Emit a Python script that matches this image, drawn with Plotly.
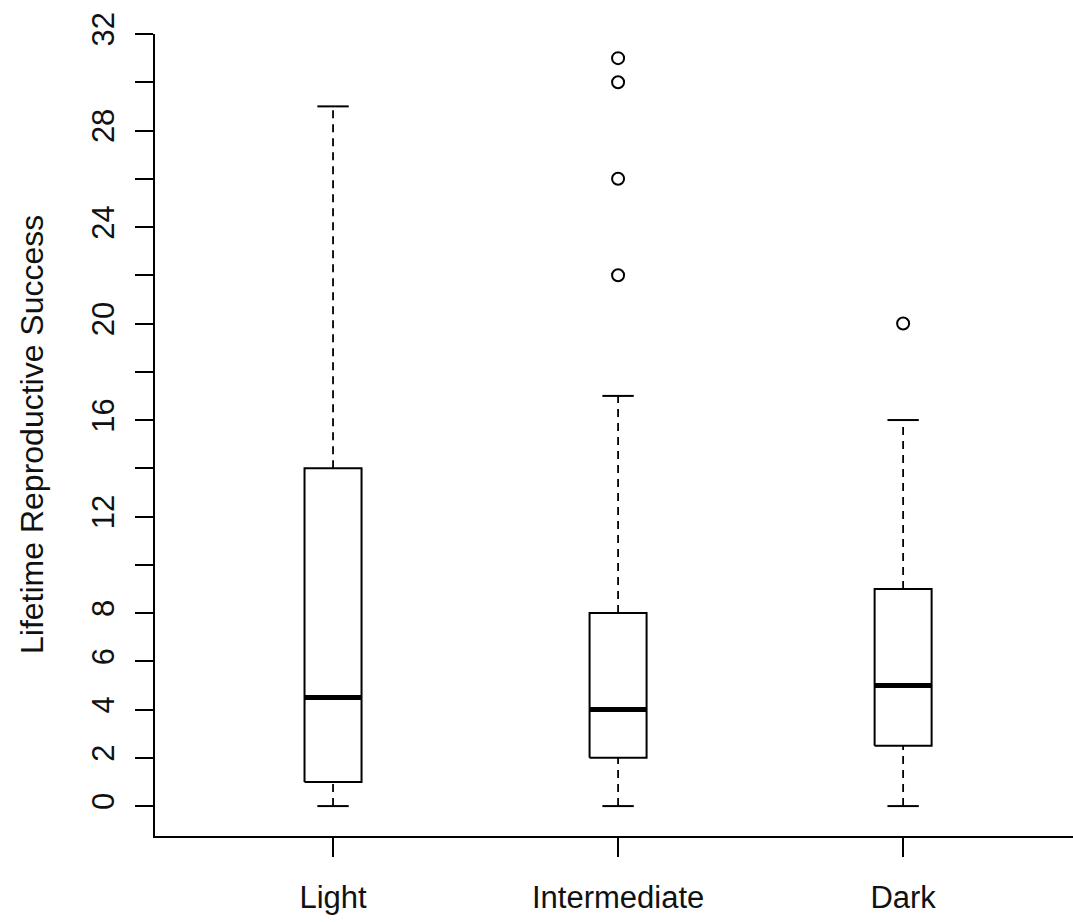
import plotly.graph_objects as go

categories = ["Light", "Intermediate", "Dark"]
lower_whisker = [0, 0, 0]
q1 = [1, 2, 2.5]
median = [4.5, 4, 5]
q3 = [14, 8, 9]
upper_whisker = [29, 17, 16]
outliers = {"Intermediate": [22, 26, 30, 31], "Dark": [20]}

y_tickvals = list(range(0, 33, 2))
y_ticklabels = ["0", "2", "4", "6", "8", "", "12", "", "16", "", "20", "", "24", "", "28", "", "32"]

FONT = "Liberation Sans, Arial, sans-serif"
BOX_HALF = 0.1
STAPLE_HALF = 0.055

pos = list(range(1, len(categories) + 1))

box_x, box_y = [], []
med_x, med_y = [], []
wh_x, wh_y = [], []
st_x, st_y = [], []
out_x, out_y = [], []
for i, c in enumerate(categories):
    p = pos[i]
    box_x += [p - BOX_HALF, p + BOX_HALF, p + BOX_HALF, p - BOX_HALF, p - BOX_HALF, None]
    box_y += [q1[i], q1[i], q3[i], q3[i], q1[i], None]
    med_x += [p - BOX_HALF, p + BOX_HALF, None]
    med_y += [median[i], median[i], None]
    wh_x += [p, p, None, p, p, None]
    wh_y += [q3[i], upper_whisker[i], None, lower_whisker[i], q1[i], None]
    st_x += [p - STAPLE_HALF, p + STAPLE_HALF, None, p - STAPLE_HALF, p + STAPLE_HALF, None]
    st_y += [upper_whisker[i], upper_whisker[i], None, lower_whisker[i], lower_whisker[i], None]
    for v in outliers.get(c, []):
        out_x.append(p)
        out_y.append(v)

fig = go.Figure()
fig.add_trace(go.Scatter(x=wh_x, y=wh_y, mode="lines",
                         line=dict(color="black", width=1.8, dash="8px,6px"), hoverinfo="skip"))
fig.add_trace(go.Scatter(x=st_x, y=st_y, mode="lines",
                         line=dict(color="black", width=2), hoverinfo="skip"))
fig.add_trace(go.Scatter(x=box_x, y=box_y, mode="lines",
                         line=dict(color="black", width=2), hoverinfo="skip"))
fig.add_trace(go.Scatter(x=med_x, y=med_y, mode="lines",
                         line=dict(color="black", width=5), hoverinfo="skip"))
fig.add_trace(go.Scatter(x=out_x, y=out_y, mode="markers",
                         marker=dict(symbol="circle-open", size=12, color="black",
                                     line=dict(width=2, color="black")), hoverinfo="skip"))

fig.update_layout(
    width=1073, height=922,
    margin=dict(l=155, r=0, t=34, b=86),
    paper_bgcolor="white", plot_bgcolor="white",
    showlegend=False,
    font=dict(family=FONT, size=30, color="#111"),
    xaxis=dict(range=[0.3754, 3.596], tickvals=pos, ticktext=categories,
               showgrid=False, zeroline=False, showline=True, linecolor="black", linewidth=2,
               ticks="outside", ticklen=19, tickwidth=2, tickcolor="black",
               ticklabelstandoff=14,
               tickfont=dict(family=FONT, size=31, color="#111")),
    yaxis=dict(range=[-1.24, 32], tickvals=y_tickvals, ticktext=y_ticklabels,
               tickangle=-90,
               showgrid=False, zeroline=False, showline=True, linecolor="black", linewidth=2,
               ticks="outside", ticklen=18, tickwidth=2, tickcolor="black",
               ticklabelstandoff=9,
               tickfont=dict(family=FONT, size=31, color="#111")),
    annotations=[dict(text="Lifetime Reproductive Success", xref="paper", yref="paper",
                      x=(32 - 155) / 918, y=0.5, xanchor="center", yanchor="middle",
                      textangle=-90, showarrow=False,
                      font=dict(family=FONT, size=32, color="#111"))],
)

fig.write_html("out.html",
               config={"displayModeBar": False},
               post_script="document.body.style.margin='0';document.body.style.overflow='hidden';")
